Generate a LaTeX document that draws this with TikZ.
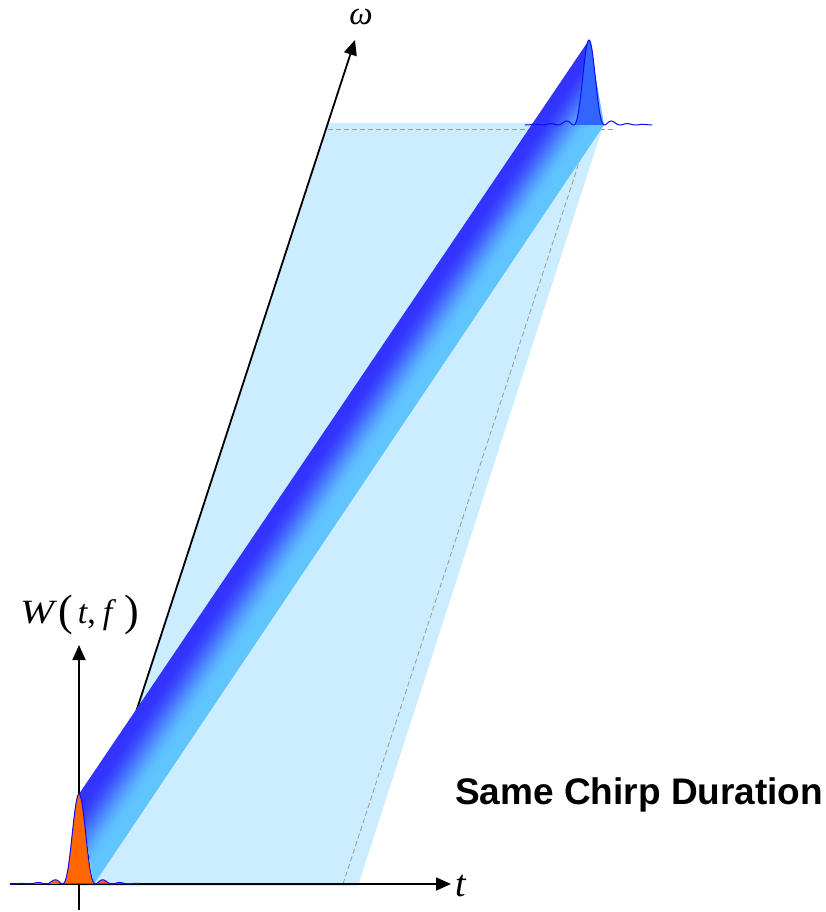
\documentclass[tikz,border=0pt]{standalone}
\usepackage{fontspec}
\setmainfont{Liberation Serif}
\newfontfamily\sansb{Liberation Sans}
\usetikzlibrary{arrows.meta,calc}
\definecolor{lightfill}{HTML}{CCECFF}
\definecolor{banddark}{HTML}{3333FF}
\definecolor{bandlight}{HTML}{60C4FF}
\definecolor{peakblue}{HTML}{3366FF}
\definecolor{outlineblue}{HTML}{0A0AFF}
\definecolor{orangefill}{HTML}{FF6600}
\definecolor{dashgray}{HTML}{999999}
\begin{document}
\begin{tikzpicture}[x=1pt,y=-1pt,
  axisline/.style={line width=1.8pt,-{Triangle[length=15pt,width=13pt]}},
  guide/.style={dashgray,line width=0.8pt,dash pattern=on 5pt off 3pt},
  curve/.style={outlineblue,line width=1pt,line join=round},
  lbl/.style={inner sep=0pt},
  declare function={sincv(\u)=sin(180*\u)/(pi*\u); sincsq(\u)=sincv(\u)*sincv(\u);}
]
\useasboundingbox (0,0) rectangle (825,912);

% key points
\coordinate (O) at (80,884);
\coordinate (Wbot) at (79,910);
\coordinate (Wtip) at (79,645);
\coordinate (Tstart) at (10,884);
\coordinate (Ttip) at (451,884);
\coordinate (Otip) at (355,40);

% light blue region
\coordinate (L1) at (80,886);
\coordinate (L2) at (358,886);
\coordinate (L3) at (604,123);
\coordinate (L4) at (328,123);
\fill[lightfill] (L1) -- (L2) -- (L3) -- (L4) -- cycle;

% dashed guides
\coordinate (D1) at (328,129);
\coordinate (D2) at (615,129);
\coordinate (D3) at (343,884);
\coordinate (D4) at (590,129);
\draw[guide] (D1) -- (D2);
\draw[guide] (D3) -- (D4);

% axes
\draw[axisline] (Wbot) -- (Wtip);
\draw[axisline] (Tstart) -- (Ttip);
\draw[axisline] (O) -- (Otip);

% band with gradient
\coordinate (P1) at (79,794);
\coordinate (P2) at (589,40);
\coordinate (P3) at (604,125);
\coordinate (P4) at (94,884);
\foreach \i in {0,...,59}{
  \pgfmathsetmacro\sa{\i/60}
  \pgfmathsetmacro\sb{min((\i+1.7)/60,1)}
  \pgfmathsetmacro\sm{(\i+0.5)/60}
  \pgfmathsetmacro\uu{min(max((\sm-0.1)/0.72,0),1)}
  \pgfmathsetmacro\gg{100*\uu*\uu*(3-2*\uu)}
  \fill[bandlight!\gg!banddark] ($(P1)!\sa!(P4)$) -- ($(P1)!\sb!(P4)$) -- ($(P2)!\sb!(P3)$) -- ($(P2)!\sa!(P3)$) -- cycle;
}

% bottom orange peak
\fill[orangefill] plot[domain=-69.25:61.25,samples=262] ({79+\x},{884-90*sincsq(\x/16.5)}) -- cycle;
\draw[curve] plot[domain=-69.25:61.25,samples=262] ({79+\x},{884-90*sincsq(\x/16.5)});

% top blue peak
\fill[peakblue] plot[domain=-15.25:15.25,samples=62] ({589+\x},{125-85*sincsq(\x/15.5)}) -- cycle;
\draw[curve] plot[domain=-64.25:63.25,samples=256] ({589+\x},{125-85*sincsq(\x/15.5)});

% labels
\node[lbl,anchor=base west,font=\fontsize{38}{40}\selectfont\itshape] (tlabel) at (455,896) {t};
\node[lbl,anchor=base,font=\fontsize{33}{35}\selectfont\itshape] (wlabel) at (361,25) {ω};
\node[lbl,anchor=base west,font=\fontsize{34}{36}\selectfont] (Wlabel) at (20,623)
  {\itshape\scalebox{1.2}[1]{W}\hspace{4pt}\raisebox{-2pt}{\upshape\fontsize{44}{46}\selectfont(}\hspace{5pt}t\upshape,\hspace{7pt}\itshape f\hspace{12pt}\raisebox{-2pt}{\upshape\fontsize{44}{46}\selectfont)}};
\node[lbl,anchor=base west,font=\sansb\bfseries\fontsize{37}{40}\selectfont] (caption) at (455,804) {Same Chirp Duration};
\end{tikzpicture}
\end{document}
